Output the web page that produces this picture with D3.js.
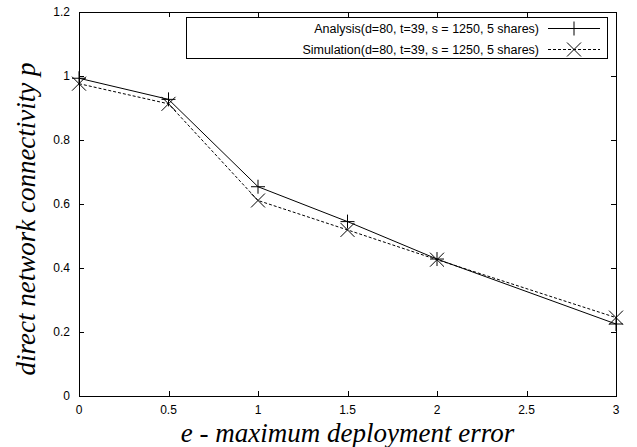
<!DOCTYPE html>
<html lang="en">
<head>
    <meta charset="UTF-8">
    <title>Direct network connectivity</title>
    <style>
        body { margin: 0; background: #fff; }
        svg text { fill: #000; }
        .tick-label { font-family: 'Liberation Sans', Arial, sans-serif; font-size: 12px; }
        .axis-title { font-family: 'Liberation Serif', 'Times New Roman', serif; font-style: italic; font-size: 27px; }
        .legend-label { font-family: 'Liberation Sans', Arial, sans-serif; font-size: 12.5px; }
    </style>
</head>
<body>
    <div id="chart"></div>

    <script src="https://d3js.org/d3.v7.min.js"></script>
    <script>
        // data
        const errors = [0, 0.5, 1, 1.5, 2, 3];
        const analysis = [0.993, 0.927, 0.654, 0.545, 0.428, 0.225];
        const simulation = [0.976, 0.913, 0.611, 0.519, 0.426, 0.245];
        const xTicks = [0, 0.5, 1, 1.5, 2, 2.5, 3];
        const yTicks = [0, 0.2, 0.4, 0.6, 0.8, 1, 1.2];
        const seriesNames = [
            "Analysis(d=80, t=39, s = 1250, 5 shares)",
            "Simulation(d=80, t=39, s = 1250, 5 shares)"
        ];

        const width = 637, height = 447;
        const margin = { left: 79, right: 21, top: 12, bottom: 51 };

        const svg = d3.select("#chart").append("svg")
            .attr("width", width)
            .attr("height", height);

        const x = d3.scaleLinear().domain([0, 3]).range([margin.left, width - margin.right]);
        const y = d3.scaleLinear().domain([0, 1.2]).range([height - margin.bottom, margin.top]);

        // ticks, mirrored on all four sides
        const tickLen = 5;
        const g = svg.append("g").attr("stroke", "#000").attr("stroke-width", 1);
        xTicks.forEach(t => {
            const px = Math.round(x(t)) + 0.5;
            g.append("line").attr("x1", px).attr("x2", px)
                .attr("y1", y(0)).attr("y2", y(0) - tickLen);
            g.append("line").attr("x1", px).attr("x2", px)
                .attr("y1", y(1.2)).attr("y2", y(1.2) + tickLen);
        });
        yTicks.forEach(t => {
            const py = Math.round(y(t)) + 0.5;
            g.append("line").attr("x1", x(0)).attr("x2", x(0) + tickLen)
                .attr("y1", py).attr("y2", py);
            g.append("line").attr("x1", x(3)).attr("x2", x(3) - tickLen)
                .attr("y1", py).attr("y2", py);
        });

        svg.selectAll(".xlab").data(xTicks).enter().append("text")
            .attr("class", "tick-label")
            .attr("x", d => x(d))
            .attr("y", y(0) + 18)
            .attr("text-anchor", "middle")
            .text(d => d);

        svg.selectAll(".ylab").data(yTicks).enter().append("text")
            .attr("class", "tick-label")
            .attr("x", x(0) - 9)
            .attr("y", d => y(d) + 4)
            .attr("text-anchor", "end")
            .text(d => d);

        // frame
        svg.append("rect")
            .attr("x", x(0) + 0.5).attr("y", y(1.2) + 0.5)
            .attr("width", x(3) - x(0)).attr("height", y(0) - y(1.2))
            .attr("fill", "none").attr("stroke", "#000");

        // axis titles
        svg.append("text")
            .attr("class", "axis-title")
            .attr("x", (x(0) + x(3)) / 2)
            .attr("y", 442)
            .attr("text-anchor", "middle")
            .text("e - maximum deployment error");

        svg.append("text")
            .attr("class", "axis-title")
            .attr("transform", `translate(35,219) rotate(-90)`)
            .attr("text-anchor", "middle")
            .text("direct network connectivity p");

        const line = d3.line().x((d, i) => x(errors[i])).y(d => y(d));

        function plus(sel, cx, cy, r) {
            sel.append("path")
                .attr("d", `M${cx - r},${cy}H${cx + r}M${cx},${cy - r}V${cy + r}`)
                .attr("stroke", "#000").attr("fill", "none");
        }
        function cross(sel, cx, cy, r) {
            sel.append("path")
                .attr("d", `M${cx - r},${cy - r}L${cx + r},${cy + r}M${cx - r},${cy + r}L${cx + r},${cy - r}`)
                .attr("stroke", "#000").attr("fill", "none");
        }

        // series lines
        svg.append("path").datum(analysis)
            .attr("d", line)
            .attr("fill", "none").attr("stroke", "#000").attr("stroke-width", 1);
        svg.append("path").datum(simulation)
            .attr("d", line)
            .attr("fill", "none").attr("stroke", "#000").attr("stroke-width", 1)
            .attr("stroke-dasharray", "3,2");

        const markers = svg.append("g");
        analysis.forEach((v, i) => plus(markers, x(errors[i]), y(v), 7));
        simulation.forEach((v, i) => cross(markers, x(errors[i]), y(v), 7));

        // legend
        const legend = svg.append("g");
        legend.append("rect")
            .attr("x", 186.5).attr("y", 17.5)
            .attr("width", 421).attr("height", 41)
            .attr("fill", "#fff").attr("stroke", "#000");
        seriesNames.forEach((name, i) => {
            const ly = 28.5 + i * 21;
            legend.append("text")
                .attr("class", "legend-label")
                .attr("x", 539)
                .attr("y", ly + 4.5)
                .attr("text-anchor", "end")
                .text(name);
            legend.append("line")
                .attr("x1", 548).attr("x2", 600)
                .attr("y1", ly).attr("y2", ly)
                .attr("stroke", "#000")
                .attr("stroke-dasharray", i === 1 ? "3,2" : null);
            if (i === 0) plus(legend, 574, ly, 7);
            else cross(legend, 574, ly, 7);
        });
    </script>
</body>
</html>
